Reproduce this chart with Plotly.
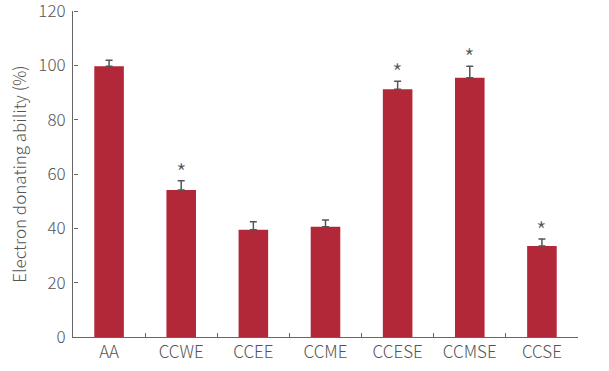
import plotly.graph_objects as go

categories = ["AA", "CCWE", "CCEE", "CCME", "CCESE", "CCMSE", "CCSE"]
values = [99.7, 54.1, 39.5, 40.6, 91.2, 95.4, 33.5]
errors = [2.2, 3.4, 2.9, 2.5, 2.9, 4.3, 2.6]
significant = [False, True, False, False, True, True, True]
y_ticks = [0, 20, 40, 60, 80, 100, 120]

font_family = "Noto Sans CJK KR"
text_color = "#555555"
axis_color = "#666666"

fig = go.Figure()
fig.add_trace(go.Bar(
    x=categories, y=values, width=0.41,
    marker=dict(color="#B22839", line=dict(width=0)),
    error_y=dict(type="data", symmetric=False, array=errors,
                 arrayminus=[0] * len(errors), color="#555555",
                 thickness=1.5, width=3.5),
))
# invisible trace to activate the tick-mark axis
fig.add_trace(go.Scatter(x=[categories[0]], y=[0], yaxis="y2",
                         mode="markers", marker=dict(opacity=0),
                         hoverinfo="skip", showlegend=False))

for c, v, e, s in zip(categories, values, errors, significant):
    if s:
        fig.add_annotation(x=c, y=v + e, text="*", showarrow=False,
                           yanchor="bottom", yshift=-10,
                           font=dict(size=24, color="#555555", family=font_family))

fig.update_layout(
    width=609, height=371,
    margin=dict(l=73, r=31, t=11, b=34, autoexpand=False),
    plot_bgcolor="white", paper_bgcolor="white",
    showlegend=False,
    font=dict(family=font_family, size=17, color=text_color, weight=300),
    bargap=0.59,
    yaxis2=dict(overlaying="y", side="right", anchor="free", position=0,
                range=[0, 120], tickvals=y_ticks, ticks="outside", ticklen=4,
                tickcolor=axis_color, showticklabels=False, showline=False,
                showgrid=False, zeroline=False, automargin=False),
)
fig.update_xaxes(
    type="category", range=[-0.5, 6.5], automargin=False,
    showline=True, linecolor=axis_color, linewidth=1,
    ticks="inside", tickson="boundaries", ticklen=4, tickcolor=axis_color,
    showgrid=False, tickfont=dict(size=17, color=text_color),
)
fig.layout.yaxis.update(range=[0, 120], tickvals=y_ticks, showline=True,
                        linecolor=axis_color, linewidth=1, ticks="outside",
                        ticklen=3, tickcolor="rgba(0,0,0,0)", showgrid=False,
                        zeroline=False, ticklabeloverflow="allow", automargin=False,
                        tickfont=dict(size=17, color=text_color),
                        title=dict(text="Electron donating ability (%)", standoff=7,
                                   font=dict(size=17, color=text_color)))

fig.write_html("out.html")
